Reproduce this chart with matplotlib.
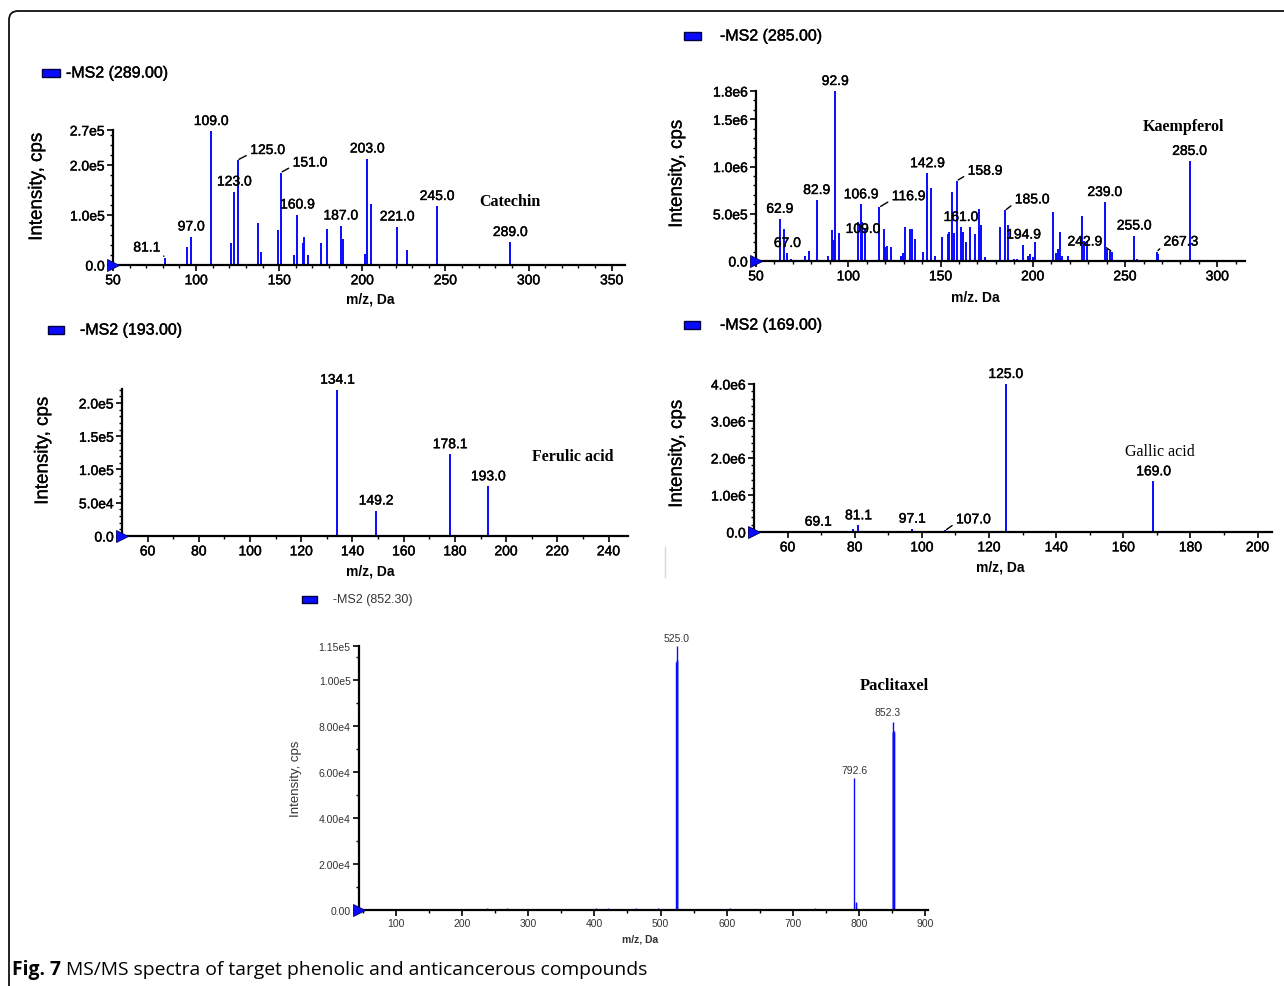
import matplotlib
matplotlib.use("Agg")
import numpy as np
import matplotlib.pyplot as plt
import matplotlib.patches as mpatches
import matplotlib.transforms as mtransforms
import matplotlib.patheffects as pe
from matplotlib.lines import Line2D
from matplotlib.ticker import MultipleLocator, FixedLocator

# ─────────────────────────────────────────────
# DATA
# ─────────────────────────────────────────────
catechin_mz = [81.1, 94.6, 97.0, 109.0, 121.0, 123.0, 125.0, 137.3, 139.1, 149.2, 151.0,
               158.6, 160.9, 164.0, 165.0, 167.4, 175.1, 178.5, 187.0, 188.3, 201.8, 203.0,
               205.5, 221.0, 226.9, 245.0, 289.0]
catechin_int = [1.5e4, 3.7e4, 5.7e4, 2.68e5, 4.4e4, 1.47e5, 2.1e5, 8.4e4, 2.7e4, 7.0e4, 1.85e5,
                2.1e4, 1.01e5, 4.4e4, 5.6e4, 2.1e4, 4.4e4, 7.3e4, 7.9e4, 5.3e4, 2.2e4, 2.13e5,
                1.22e5, 7.7e4, 3.1e4, 1.18e5, 4.6e4]
catechin_labels = ["81.1", "97.0", "109.0", "123.0", "125.0", "151.0", "160.9", "187.0",
                   "203.0", "221.0", "245.0", "289.0"]

kaempferol_mz = [62.9, 65.1, 67.0, 68.9, 76.5, 78.8, 82.9, 88.9, 91.1, 92.0, 92.9, 95.2,
                 105.4, 106.9, 107.7, 109.0, 116.9, 119.1, 120.0, 121.1, 123.2, 128.5, 129.7,
                 130.8, 133.2, 134.8, 136.2, 140.6, 142.9, 144.9, 147.1, 150.7, 154.0, 154.8,
                 156.3, 157.2, 158.9, 161.0, 162.4, 164.0, 166.2, 168.6, 170.9, 172.2, 174.2,
                 182.3, 185.0, 186.4, 190.0, 191.5, 194.9, 197.3, 198.6, 200.0, 201.3, 211.1,
                 212.5, 213.4, 214.5, 215.6, 219.2, 226.6, 227.8, 229.3, 239.0, 240.2, 241.8,
                 242.9, 255.0, 256.4, 267.3, 268.0, 285.0]
kaempferol_int = [4.47e5, 3.4e5, 8.5e4, 2.0e4, 5.7e4, 1.1e5, 6.46e5, 5.7e4, 3.3e5, 2.2e5, 1.8e6,
                  3.0e5, 4.1e5, 6.0e5, 4.1e5, 3.5e5, 5.7e5, 3.4e5, 1.45e5, 1.63e5, 1.45e5,
                  5.7e4, 9.0e4, 3.6e5, 3.4e5, 3.4e5, 2.34e5, 1.0e5, 9.3e5, 7.7e5, 5.7e4,
                  2.5e5, 2.9e5, 3.05e5, 7.3e5, 3.0e5, 8.5e5, 3.6e5, 3.1e5, 2.0e5, 3.6e5,
                  2.9e5, 5.55e5, 3.76e5, 4.0e4, 3.6e5, 5.36e5, 3.76e5, 2.0e4, 2.0e4, 1.74e5,
                  5.7e4, 7.5e4, 4.0e4, 2.06e5, 5.18e5, 9.0e4, 1.28e5, 3.1e5, 5.7e4, 5.7e4,
                  4.76e5, 2.1e5, 2.1e5, 6.25e5, 1.28e5, 1.1e5, 1.0e5, 2.7e5, 2.0e4, 1.0e5,
                  7.5e4, 1.06e6]
kaempferol_labels = ["62.9", "67.0", "82.9", "92.9", "106.9", "109.0", "116.9", "142.9",
                     "158.9", "161.0", "185.0", "194.9", "239.0", "242.9", "255.0", "267.3",
                     "285.0"]

ferulic_mz = [134.1, 149.2, 178.1, 193.0]
ferulic_int = [2.2e5, 3.83e4, 1.23e5, 7.47e4]
ferulic_labels = ["134.1", "149.2", "178.1", "193.0"]

gallic_mz = [69.1, 79.5, 81.1, 97.1, 107.0, 125.0, 169.0]
gallic_int = [1.0e4, 9.0e4, 1.8e5, 9.0e4, 4.5e4, 4.0e6, 1.37e6]
gallic_labels = ["69.1", "81.1", "97.1", "107.0", "125.0", "169.0"]

paclitaxel_mz = [237.9, 268.0, 402.0, 420.5, 463.0, 496.5, 524.0, 524.4, 524.8, 525.0,
                 604.5, 733.5, 792.6, 795.0, 795.6, 851.0, 851.5, 852.0, 852.3, 852.8, 853.3]
paclitaxel_int = [1.0e3, 1.0e3, 1.0e3, 1.0e3, 8.0e2, 8.0e2, 1.08e5, 1.09e5, 1.09e5, 1.15e5,
                  8.0e2, 1.0e3, 5.76e4, 3.6e3, 3.0e3, 7.7e4, 7.77e4, 7.8e4, 8.2e4, 7.8e4, 7.7e4]
paclitaxel_labels = ["525.0", "792.6", "852.3"]

# ─────────────────────────────────────────────
# LAYOUT
# ─────────────────────────────────────────────
W, H = 1284, 987
BLUE = "#0a0aff"
SANS = "Liberation Sans"
SERIF = "Liberation Serif"

fig = plt.figure(figsize=(W / 100, H / 100), dpi=100)


def fx(x):
    return x / W


def fy(y):
    return 1 - y / H


def heavy(color, w):
    if w <= 0:
        return []
    return [pe.withStroke(linewidth=w, foreground=color)]


def draw_panel(mz, inten, labels, offsets, box, xlim, ylim, xmajor, xminor,
               yticks, yticklabels, yminor, legend, ylab, xlab, name, name_xy,
               name_weight="bold", fs=10, lw=1.4, tick_color="black", stroke=0.3,
               name_fs=11.5, ylab_fs=13.5, leg_fs=11.5):
    x0, x1, ytop, ybot = box
    fx_eff = heavy(tick_color, stroke)
    ax = fig.add_axes([fx(x0), fy(ybot), fx(x1 - x0), (ybot - ytop) / H])
    ax.vlines(mz, 0, inten, color=BLUE, lw=lw)
    ax.set_xlim(*xlim)
    ax.set_ylim(*ylim)
    for s in ["top", "right"]:
        ax.spines[s].set_visible(False)
    for s in ["left", "bottom"]:
        ax.spines[s].set_linewidth(1.6)
    ax.xaxis.set_major_locator(FixedLocator(xmajor))
    ax.xaxis.set_minor_locator(MultipleLocator(xminor))
    ax.yaxis.set_major_locator(FixedLocator(yticks))
    ax.set_yticklabels(yticklabels)
    ax.yaxis.set_minor_locator(MultipleLocator(yminor))
    ax.tick_params(which="major", length=4, width=1.2, labelsize=fs, pad=2,
                   labelcolor=tick_color)
    ax.tick_params(which="minor", length=2, width=1.0)
    for t in ax.get_xticklabels() + ax.get_yticklabels():
        t.set_fontfamily(SANS)
        t.set_path_effects(fx_eff)
    # origin marker
    ax.plot([xlim[0]], [0], marker=">", ms=8, color=BLUE, mec="#000060", mew=0.6,
            clip_on=False, zorder=5)

    mz_a = np.array(mz)
    for lbl in labels:
        i = int(np.argmin(np.abs(mz_a - float(lbl))))
        px, py = mz[i], inten[i]
        off = offsets.get(lbl)
        if off is None:
            t = ax.annotate(lbl, (px, py), xytext=(0, 3), textcoords="offset pixels",
                            ha="center", va="bottom", fontsize=fs, family=SANS,
                            color=tick_color)
        else:
            dx, dy, side = off
            arrow = None
            if side is not None:
                arrow = dict(arrowstyle="-", lw=1.0, color="black",
                             relpos=(side, 0.25), shrinkA=1, shrinkB=1)
            t = ax.annotate(lbl, (px, py), xytext=(dx, dy), textcoords="offset pixels",
                            ha="center", va="center", fontsize=fs, family=SANS,
                            color=tick_color, arrowprops=arrow)
        t.set_path_effects(fx_eff)

    ax.text(name_xy[0], name_xy[1], name, ha="center", va="center",
            family=SERIF, fontsize=name_fs, fontweight=name_weight)

    # legend
    lx, ly, lw_, lh, tx = legend
    fig.patches.append(mpatches.Rectangle((fx(lx), fy(ly + lh)), fx(lw_), lh / H,
                                          transform=fig.transFigure, facecolor=BLUE,
                                          edgecolor="#000040", lw=1.0))
    fig.text(fx(tx), fy(ly + lh / 2), legend_text[name], ha="left", va="center",
             family=SANS, fontsize=leg_fs, color=tick_color, path_effects=fx_eff)
    fig.text(fx(ylab[0]), fy(ylab[1]), "Intensity, cps", rotation=90, ha="center",
             va="center", family=SANS, fontsize=ylab_fs, color=tick_color,
             path_effects=heavy(tick_color, stroke * 0.6))
    fig.text(fx(xlab[1]), fy(xlab[2]), xlab[0], ha="center", va="center",
             family=SANS, fontsize=fs, fontweight="bold", color=tick_color)
    return ax


legend_text = {
    "Catechin": "-MS2 (289.00)",
    "Kaempferol": "-MS2 (285.00)",
    "Ferulic acid": "-MS2 (193.00)",
    "Gallic acid": "-MS2 (169.00)",
    "Paclitaxel": "-MS2 (852.30)",
}

# Catechin
draw_panel(catechin_mz, catechin_int, catechin_labels,
           {"81.1": (-18, 10, 1), "125.0": (30, 10, 0), "151.0": (29, 10, 0)},
           box=(113, 625, 131, 266), xlim=(50, 358), ylim=(0, 2.7e5),
           xmajor=range(50, 351, 50), xminor=10,
           yticks=[0, 1e5, 2e5, 2.7e5], yticklabels=["0.0", "1.0e5", "2.0e5", "2.7e5"],
           yminor=2e4, legend=(42, 70, 18, 8, 66), ylab=(37, 188),
           xlab=("m/z, Da", 370, 300), name="Catechin", name_xy=(289, 1.27e5))

# Kaempferol
draw_panel(kaempferol_mz, kaempferol_int, kaempferol_labels,
           {"109.0": (-2, -1, None), "116.9": (29, 11, 0), "158.9": (28, 10, 0),
            "185.0": (27, 11, 0), "242.9": (-27, 10, 1), "267.3": (24, 10, 0)},
           box=(756, 1245, 92, 262), xlim=(50, 315), ylim=(0, 1.8e6),
           xmajor=range(50, 301, 50), xminor=10,
           yticks=[0, 5e5, 1e6, 1.5e6, 1.8e6],
           yticklabels=["0.0", "5.0e5", "1.0e6", "1.5e6", "1.8e6"],
           yminor=1e5, legend=(684, 33, 17, 8, 720), ylab=(677, 175),
           xlab=("m/z. Da", 975, 298), name="Kaempferol", name_xy=(281.5, 1.43e6))

# Ferulic acid
draw_panel(ferulic_mz, ferulic_int, ferulic_labels, {},
           box=(122, 628, 390, 537), xlim=(50, 247.6), ylim=(0, 2.21e5),
           xmajor=range(60, 241, 20), xminor=10,
           yticks=[0, 5e4, 1e5, 1.5e5, 2e5],
           yticklabels=["0.0", "5.0e4", "1.0e5", "1.5e5", "2.0e5"],
           yminor=1e4, legend=(48, 327, 16, 8, 80), ylab=(43, 452),
           xlab=("m/z, Da", 370, 572), name="Ferulic acid", name_xy=(226.2, 1.2e5))

# Gallic acid
draw_panel(gallic_mz, gallic_int, gallic_labels, {"107.0": (28, 11, 0)},
           box=(754, 1272, 385, 533), xlim=(50, 204.3), ylim=(0, 4e6),
           xmajor=range(60, 201, 20), xminor=10,
           yticks=[0, 1e6, 2e6, 3e6, 4e6],
           yticklabels=["0.0", "1.0e6", "2.0e6", "3.0e6", "4.0e6"],
           yminor=2e5, legend=(684, 322, 16, 8, 720), ylab=(677, 455),
           xlab=("m/z, Da", 1000, 568), name="Gallic acid", name_xy=(171, 2.2e6),
           name_weight="normal")

# Paclitaxel
draw_panel(paclitaxel_mz, paclitaxel_int, paclitaxel_labels, {"852.3": (-6, 10, None)},
           box=(359, 928, 647, 911), xlim=(44, 904.5), ylim=(0, 1.15e5),
           xmajor=range(100, 901, 100), xminor=50,
           yticks=[0, 2e4, 4e4, 6e4, 8e4, 1e5, 1.15e5],
           yticklabels=["0.00", "2.00e4", "4.00e4", "6.00e4", "8.00e4", "1.00e5", "1.15e5"],
           yminor=1e4, legend=(302, 597, 15, 7, 333), ylab=(296, 779),
           xlab=("m/z, Da", 640, 940), name="Paclitaxel", name_xy=(854, 9.8e4),
           fs=7.5, lw=1.0, tick_color="#333333", stroke=0, name_fs=12,
           ylab_fs=9.5, leg_fs=9)

# ─────────────────────────────────────────────
# FRAME, ARTEFACT LINE AND CAPTION
# ─────────────────────────────────────────────
frame = mpatches.FancyBboxPatch((9, -60), 1400, H - 12 + 60,
                                boxstyle="round,pad=0,rounding_size=9",
                                transform=mtransforms.IdentityTransform(),
                                facecolor="none", edgecolor="#111111", lw=1.3)
fig.patches.append(frame)
fig.lines.append(Line2D([fx(665), fx(665)], [fy(548), fy(578)], color="#c9dcef",
                        lw=1.0, transform=fig.transFigure))

cap1 = fig.text(fx(12), fy(970), "Fig. 7", ha="left", va="center", family="Open Sans",
                fontsize=13.9, fontweight="bold")
renderer = fig.canvas.get_renderer()
bb = cap1.get_window_extent(renderer)
fig.text(bb.x1 / W + 5 / W, fy(970), "MS/MS spectra of target phenolic and anticancerous compounds",
         ha="left", va="center", family="Open Sans", fontsize=13.9)

fig.savefig("out.png", dpi=100)
